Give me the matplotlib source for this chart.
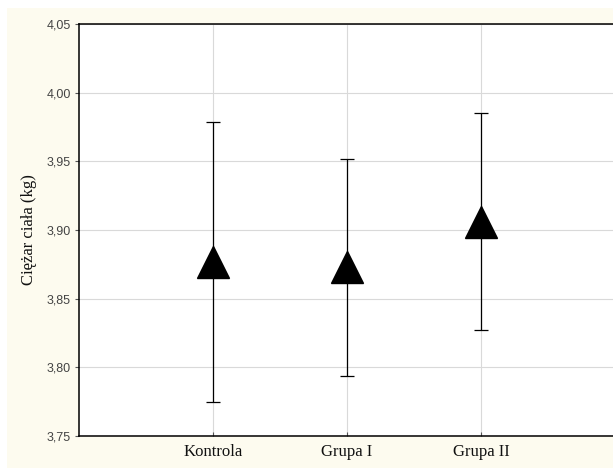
import matplotlib.pyplot as plt
from matplotlib.patches import Rectangle
from matplotlib.ticker import FuncFormatter
import numpy as np

categories = ['Kontrola', 'Grupa I', 'Grupa II']
means = [3.877, 3.873, 3.906]
upper = [3.979, 3.952, 3.985]
lower = [3.775, 3.794, 3.827]
yticks = [3.75, 3.80, 3.85, 3.90, 3.95, 4.00, 4.05]

W, H = 613, 468
fig = plt.figure(figsize=(W / 100, H / 100), dpi=100, facecolor='white')
# cream panel behind the plot (thin white strip left and top as in the scan)
fig.patches.append(Rectangle((7 / W, 0), 1, (H - 8) / H, transform=fig.transFigure,
                             facecolor='#fdfbef', edgecolor='none', zorder=-10))

ax = fig.add_axes([79 / W, 32 / H, 536 / W, 412 / H])
ax.set_facecolor('white')

x = np.arange(1, len(categories) + 1)
m = np.array(means)
yerr = [m - np.array(lower), np.array(upper) - m]
ax.errorbar(x, m, yerr=yerr, fmt='none', ecolor='black', elinewidth=0.9,
            capsize=5, capthick=0.9, zorder=3)
ax.plot(x, m, linestyle='none', marker='^', markersize=23, color='black', zorder=4)

ax.set_xlim(0, 4)
ax.set_ylim(3.75, 4.05)
ax.set_xticks(x)
ax.set_xticklabels(categories, family='Liberation Serif', fontsize=12, color='#111111')
ax.set_yticks(yticks)
ax.yaxis.set_major_formatter(FuncFormatter(lambda v, p: f'{v:.2f}'.replace('.', ',')))
for lab in ax.get_yticklabels():
    lab.set_family('Liberation Sans')
    lab.set_fontsize(9)
    lab.set_color('#444444')

ax.grid(True, color='#d9d9d9', linewidth=0.8)
ax.set_axisbelow(True)
ax.tick_params(axis='y', direction='out', length=3, width=0.8, color='#555555', pad=3)
ax.tick_params(axis='x', direction='in', length=3, width=0.8, color='#555555', pad=6)
for s in ax.spines.values():
    s.set_linewidth(1.1)
    s.set_color('black')

ax.set_ylabel('Ciężar ciała (kg)', family='Liberation Serif', fontsize=12, color='#111111')
ax.yaxis.set_label_coords(-0.078, 0.5)

fig.savefig('out.png', dpi=100, facecolor=fig.get_facecolor())
